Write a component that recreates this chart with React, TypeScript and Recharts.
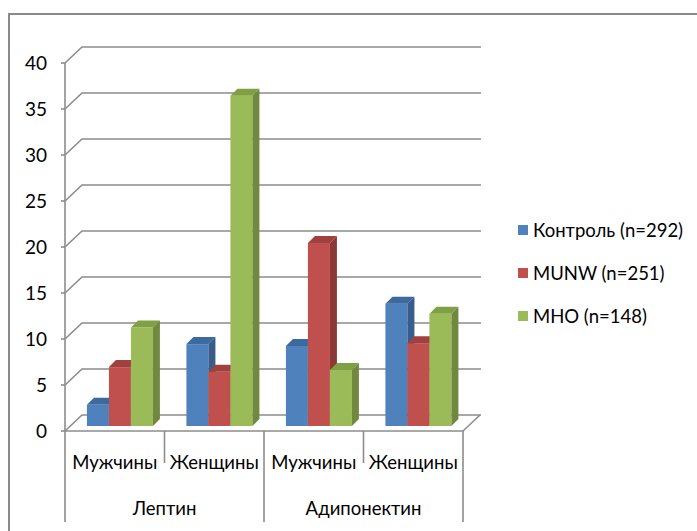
import React from "react";
import { BarChart, Bar, XAxis, YAxis, CartesianGrid, Legend } from "recharts";

const hormones = ["Лептин", "Лептин", "Адипонектин", "Адипонектин"];
const sexes = ["Мужчины", "Женщины", "Мужчины", "Женщины"];
const control = [2.3, 8.9, 8.7, 13.3];
const munw = [6.4, 5.9, 19.9, 9.0];
const mho = [10.7, 35.9, 6.1, 12.2];
const yTicks = [0, 5, 10, 15, 20, 25, 30, 35, 40];

const series = [
  { key: "control", name: "Контроль (n=292)", values: control, fill: "#4F81BD", top: "#3D6A9E", side: "#385D8A" },
  { key: "munw", name: "MUNW (n=251)", values: munw, fill: "#C0504D", top: "#A0413F", side: "#8C3836" },
  { key: "mho", name: "MHO (n=148)", values: mho, fill: "#9BBB59", top: "#80A044", side: "#71893F" },
];

const data = sexes.map((sex, i) => ({
  sex,
  hormone: hormones[i],
  control: control[i],
  munw: munw[i],
  mho: mho[i],
}));

const W = 697;
const H = 531;
const X_AXIS_H = 30;
const MARGIN = { top: 58, right: 229, bottom: 105 - X_AXIS_H, left: 0 };
const Y_AXIS_W = 70;
const PLOT_W = W - MARGIN.left - MARGIN.right - Y_AXIS_W;
const BAND = PLOT_W / sexes.length;
const FONT = "Lato, 'Noto Sans', sans-serif";
const GRID = "#8c8c8c";
const TEXT = "#000";

// 3d offsets: front axis plane is shifted down-left, back wall up-right
const FRONT = { dx: -5, dy: 5 };
const BACK = { dx: 12, dy: -11 };
const DEPTH = { dx: 7, dy: 7 };

function bar3d(top: string, side: string) {
  return (props: any) => {
    const { x, y, width, height, fill } = props;
    if (height == null || height <= 0) return <g />;
    const { dx, dy } = DEPTH;
    return (
      <g>
        <rect x={x} y={y} width={width} height={height} fill={fill} />
        <polygon
          points={`${x},${y} ${x + dx},${y - dy} ${x + width + dx},${y - dy} ${x + width},${y}`}
          fill={top}
        />
        <polygon
          points={`${x + width},${y} ${x + width + dx},${y - dy} ${x + width + dx},${y + height - dy} ${x + width},${y + height}`}
          fill={side}
        />
      </g>
    );
  };
}

function gridLine(p: any) {
  const y = p.y1;
  const x1 = p.x1;
  const x2 = p.x2;
  return (
    <polyline
      key={`grid-${p.index}-${y}`}
      points={`${x1 + FRONT.dx},${y + FRONT.dy} ${x1 + BACK.dx},${y + BACK.dy} ${x2 + BACK.dx + 1},${y + BACK.dy}`}
      fill="none"
      stroke={GRID}
      strokeWidth={1.6}
    />
  );
}

function YTick(props: any) {
  const { x, y, payload } = props;
  const fx = x + FRONT.dx;
  const fy = y + FRONT.dy;
  return (
    <g>
      <line x1={fx - 4} x2={fx} y1={fy} y2={fy} stroke={GRID} strokeWidth={1.6} />
      <text x={fx - 18} y={fy} dy="0.36em" textAnchor="end" fontSize={19} fontFamily={FONT} fill={TEXT}>
        {payload.value}
      </text>
    </g>
  );
}

function XTick(props: any) {
  const { x, y, payload, index } = props;
  const fx = x + FRONT.dx;
  const fy = y + FRONT.dy;
  const left = fx - BAND / 2;
  const right = fx + BAND / 2;
  const groupStart = index % 2 === 0;
  const last = index === sexes.length - 1;
  return (
    <g>
      <text x={fx} y={fy + 31} dy="0.36em" textAnchor="middle" fontSize={18.5} fontFamily={FONT} fill={TEXT}>
        {payload.value}
      </text>
      <line x1={left} x2={left} y1={fy} y2={groupStart ? fy + 91 : fy + 32} stroke={GRID} strokeWidth={1.6} />
      {groupStart && (
        <text x={right} y={fy + 77} dy="0.36em" textAnchor="middle" fontSize={18.5} fontFamily={FONT} fill={TEXT}>
          {hormones[index]}
        </text>
      )}
      {last && (
        <g>
          <line x1={right} x2={right} y1={fy} y2={fy + 91} stroke={GRID} strokeWidth={1.6} />
          <line
            x1={right}
            y1={fy}
            x2={right + BACK.dx - FRONT.dx}
            y2={fy + BACK.dy - FRONT.dy}
            stroke={GRID}
            strokeWidth={1.6}
          />
        </g>
      )}
    </g>
  );
}

function LegendContent(props: any) {
  const payload = props.payload || [];
  const ordered = series
    .map((s) => payload.find((p: any) => p.value === s.name))
    .filter(Boolean);
  return (
    <div style={{ fontFamily: FONT, fontSize: 18.5, color: TEXT }}>
      {ordered.map((item: any) => (
        <div key={item.value} style={{ height: 43, display: "flex", alignItems: "center", whiteSpace: "nowrap" }}>
          <span style={{ display: "inline-block", width: 10, height: 10, background: item.color, marginRight: 5 }} />
          {item.value}
        </div>
      ))}
    </div>
  );
}

export default function App() {
  return (
    <div style={{ position: "absolute", left: 0, top: 0, width: W, height: H, background: "#fff", overflow: "hidden" }}>
      <div
        style={{
          position: "absolute",
          left: 8,
          top: 13,
          width: W,
          height: H,
          border: "2px solid #8a8a8a",
          boxSizing: "border-box",
        }}
      />
      <div style={{ position: "absolute", left: 0, top: 0 }}>
        <BarChart width={W} height={H} data={data} margin={MARGIN} barCategoryGap="17%" barGap={0}>
          <CartesianGrid vertical={false} horizontal={gridLine} />
          <YAxis
            width={Y_AXIS_W}
            domain={[0, 40]}
            ticks={yTicks}
            interval={0}
            tickSize={0}
            tickMargin={0}
            tickLine={false}
            axisLine={{ stroke: GRID, strokeWidth: 1.6, transform: `translate(${FRONT.dx},${FRONT.dy})` }}
            tick={<YTick />}
          />
          <XAxis
            dataKey="sex"
            height={X_AXIS_H}
            interval={0}
            tickSize={0}
            tickMargin={0}
            tickLine={false}
            axisLine={{ stroke: GRID, strokeWidth: 1.6, transform: `translate(${FRONT.dx},${FRONT.dy})` }}
            tick={<XTick />}
          />
          <Legend
            layout="vertical"
            align="center"
            verticalAlign="middle"
            wrapperStyle={{ left: 518, top: 208, width: "auto" }}
            content={<LegendContent />}
          />
          {series.map((s) => (
            <Bar
              key={s.key}
              dataKey={s.key}
              name={s.name}
              fill={s.fill}
              isAnimationActive={false}
              shape={bar3d(s.top, s.side)}
            />
          ))}
        </BarChart>
      </div>
    </div>
  );
}
